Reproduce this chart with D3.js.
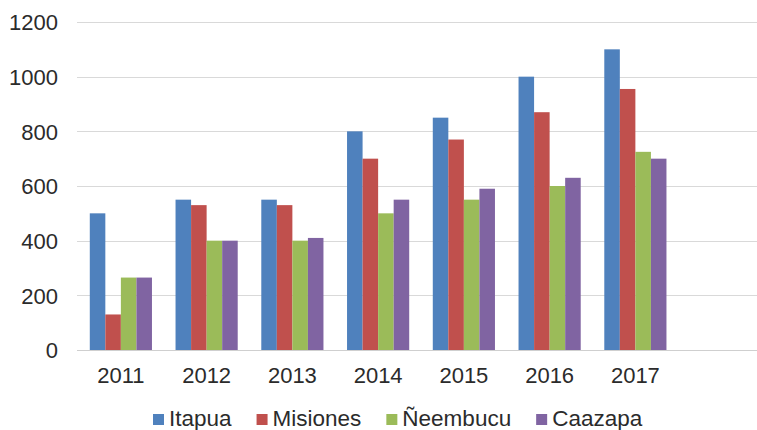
<!DOCTYPE html>
<html>
<head>
<meta charset="utf-8">
<script src="https://cdn.jsdelivr.net/npm/d3@7/dist/d3.min.js"></script>
<style>
  html, body { margin: 0; padding: 0; background: #ffffff; }
  svg { display: block; }
  text { font-family: "Liberation Sans", Arial, sans-serif; fill: #2b2b2b; }
</style>
</head>
<body>
<svg id="chart" width="757" height="430"></svg>
<script>
// Years on the category axis; the trailing blank keeps an empty slot at the right.
const years = ["2011", "2012", "2013", "2014", "2015", "2016", "2017", ""];
const seriesNames = ["Itapua", "Misiones", "Ñeembucu", "Caazapa"];
const seriesColors = ["#4F81BD", "#C0504D", "#9BBB59", "#8064A2"];

const itapua   = [500, 550, 550, 800, 850, 1000, 1100];
const misiones = [130, 530, 530, 700, 770, 870, 955];
const neembucu = [265, 400, 400, 500, 550, 600, 725];
const caazapa  = [265, 400, 410, 550, 590, 630, 700];

const yTicks = [0, 200, 400, 600, 800, 1000, 1200];

const seriesValues = [itapua, misiones, neembucu, caazapa];

const svg = d3.select("#chart");

const plot = { left: 77, right: 764, top: 22, bottom: 350 };

const x = d3.scaleBand()
  .domain(years)
  .range([plot.left + 1, plot.right])
  .paddingInner(0)
  .paddingOuter(0);

const groupWidth = x.bandwidth() * 0.725;

const xInner = d3.scaleBand()
  .domain(seriesNames)
  .range([0, groupWidth]);

const y = d3.scaleLinear()
  .domain([0, 1200])
  .range([plot.bottom, plot.top]);

// Horizontal gridlines
svg.append("g")
  .selectAll("line")
  .data(yTicks)
  .join("line")
  .attr("x1", plot.left)
  .attr("x2", 757)
  .attr("y1", d => Math.round(y(d)) + 0.5)
  .attr("y2", d => Math.round(y(d)) + 0.5)
  .attr("stroke", d => d === 0 ? "#cfcfcf" : "#d9d9d9")
  .attr("stroke-width", 1.2);

// Y axis labels
const yAxis = d3.axisLeft(y)
  .tickValues(yTicks)
  .tickFormat(d3.format("d"))
  .tickSize(0)
  .tickPadding(0);
const gy = svg.append("g")
  .attr("transform", `translate(58,0)`)
  .call(yAxis);
gy.select(".domain").remove();
gy.selectAll("text")
  .attr("font-size", "22px")
  .attr("font-family", "Liberation Sans, Arial, sans-serif")
  .attr("fill", "#2b2b2b")
  .attr("dy", "0.36em");

// X axis labels
const xAxis = d3.axisBottom(x).tickSize(0).tickPadding(0);
const gx = svg.append("g")
  .attr("transform", `translate(0,${plot.bottom})`)
  .call(xAxis);
gx.select(".domain").remove();
gx.selectAll("text")
  .attr("font-size", "22px")
  .attr("font-family", "Liberation Sans, Arial, sans-serif")
  .attr("fill", "#2b2b2b")
  .attr("dy", "0")
  .attr("y", 33);

// Bars
const rows = years.slice(0, itapua.length).map((yr, i) => ({
  year: yr,
  values: seriesNames.map((name, s) => ({ name, color: seriesColors[s], value: seriesValues[s][i] }))
}));

svg.append("g")
  .selectAll("g")
  .data(rows)
  .join("g")
  .attr("transform", d => `translate(${x(d.year) + (x.bandwidth() - groupWidth) / 2},0)`)
  .selectAll("rect")
  .data(d => d.values)
  .join("rect")
  .attr("x", d => xInner(d.name))
  .attr("width", xInner.bandwidth())
  .attr("y", d => y(d.value))
  .attr("height", d => y(0) - y(d.value))
  .attr("fill", d => d.color);

// Legend
const legend = svg.append("g").attr("transform", "translate(153,426)");
let cursor = 0;
seriesNames.forEach((name, i) => {
  const item = legend.append("g").attr("transform", `translate(${cursor},0)`);
  item.append("rect")
    .attr("x", 0)
    .attr("y", -12)
    .attr("width", 11)
    .attr("height", 11)
    .attr("fill", seriesColors[i]);
  const t = item.append("text")
    .attr("x", 16)
    .attr("y", 0)
    .attr("font-size", "22.5px")
    .text(name);
  cursor += 16 + t.node().getComputedTextLength() + 25;
});
</script>
</body>
</html>
